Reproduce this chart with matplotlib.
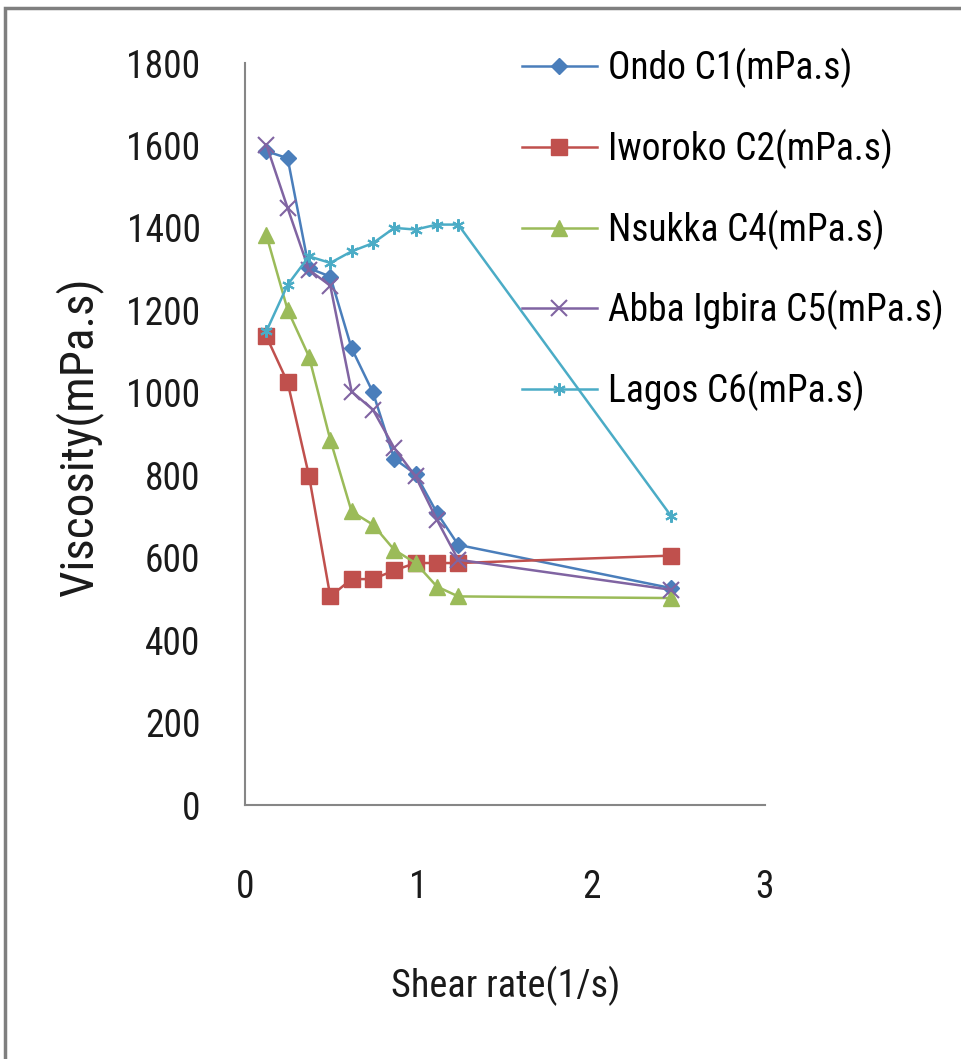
import matplotlib
matplotlib.use("Agg")
import matplotlib.pyplot as plt
from matplotlib import font_manager
from matplotlib.patches import Rectangle

names = set(f.name for f in font_manager.fontManager.ttflist)
fam = "Liberation Sans"
for cand in ["Liberation Sans Narrow", "Roboto Condensed", "Open Sans Condensed",
             "Noto Sans Condensed", "Lato"]:
    if cand in names:
        fam = cand
        break
plt.rcParams['font.family'] = [fam, 'DejaVu Sans']

shear_rate = [0.123, 0.246, 0.369, 0.492, 0.615, 0.738, 0.861, 0.984, 1.107, 1.23, 2.46]
ondo_c1 = [1586, 1569, 1302, 1282, 1108, 1001, 840, 803, 709, 631, 526]
iworoko_c2 = [1137, 1025, 799, 506, 548, 548, 569, 587, 587, 587, 605]
nsukka_c4 = [1383, 1201, 1088, 886, 712, 680, 619, 587, 530, 506, 502]
abba_c5 = [1602, 1448, 1298, 1260, 1003, 959, 866, 797, 692, 595, 522]
lagos_c6 = [1149, 1262, 1331, 1315, 1343, 1363, 1400, 1396, 1408, 1408, 700]

labels = ["Ondo C1(mPa.s)", "Iworoko C2(mPa.s)", "Nsukka C4(mPa.s)",
          "Abba Igbira C5(mPa.s)", "Lagos C6(mPa.s)"]
colors = ["#4A7EBB", "#C0504D", "#9BBB59", "#8064A2", "#4BACC6"]

W, H = 962, 1059
fig = plt.figure(figsize=(W / 100, H / 100), dpi=100)
fig.patches.append(Rectangle((5 / W, -0.05), 1.0, 1.05 - 8 / H, transform=fig.transFigure,
                             fill=False, edgecolor="#7f7f7f", linewidth=2.5))

ax = fig.add_axes([245 / W, 1 - 805 / H, 520 / W, 742 / H])

series = [ondo_c1, iworoko_c2, nsukka_c4, abba_c5, lagos_c6]
markers = ["D", "s", "^", "x", (6, 2, 0)]
msizes = [8, 11, 11, 11, 9]
for vals, lab, c, m, ms in zip(series, labels, colors, markers, msizes):
    kw = dict(color=c, linewidth=1.8, marker=m, markersize=ms, label=lab)
    if m in ("x",) or isinstance(m, tuple):
        kw.update(markeredgewidth=1.5)
    else:
        kw.update(markeredgecolor=c)
    ax.plot(shear_rate, vals, **kw)

ax.set_xlim(0, 3)
ax.set_ylim(0, 1800)
ax.set_xticks([0, 1, 2, 3])
ax.set_yticks(range(0, 1801, 200))
for s in ["top", "right"]:
    ax.spines[s].set_visible(False)
for s in ["left", "bottom"]:
    ax.spines[s].set_color("#868686")
    ax.spines[s].set_linewidth(1.5)
fs = 27
ax.tick_params(length=0, labelsize=fs, colors="#1a1a1a")
ax.tick_params(axis="x", pad=46)
ax.tick_params(axis="y", pad=32)

ax.set_xlabel("Shear rate(1/s)", fontsize=27.5, color="#1a1a1a")
ax.xaxis.set_label_coords(0.502, -0.216)
ax.set_ylabel("Viscosity(mPa.s)", fontsize=34, color="#1a1a1a")
ax.yaxis.set_label_coords(-0.273, 0.497)

leg = ax.legend(loc="upper left", bbox_to_anchor=(522 / W, 1 - 48 / H),
                bbox_transform=fig.transFigure, frameon=False, fontsize=fs,
                handlelength=2.0, labelspacing=1.08, handletextpad=0.3,
                borderaxespad=0, borderpad=0)

fig.savefig("out.png", dpi=100)
